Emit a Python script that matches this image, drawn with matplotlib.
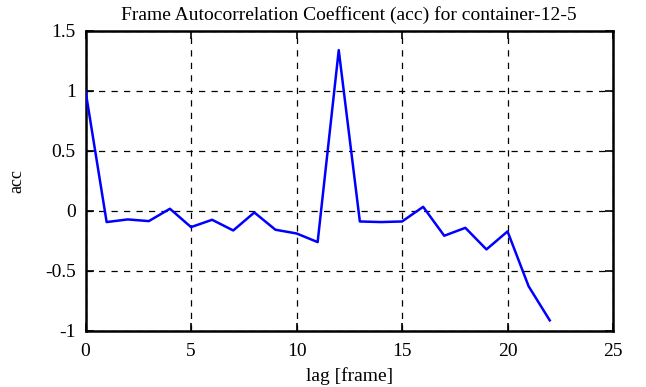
import matplotlib.pyplot as plt
import matplotlib
from matplotlib.ticker import FuncFormatter
matplotlib.use('Agg')

plt.rcParams['font.family'] = ['Liberation Serif', 'DejaVu Serif']

# acc values
lag = [0, 1, 2, 3, 4, 5, 6, 7, 8, 9, 10, 11, 12, 13, 14, 15, 16, 17, 18, 19, 20, 21, 22]
acc = [1.0, -0.094, -0.072, -0.086, 0.017, -0.136, -0.075, -0.164, -0.014, -0.158,
       -0.189, -0.261, 1.34, -0.089, -0.094, -0.089, 0.033, -0.208, -0.142, -0.322,
       -0.172, -0.63, -0.914]

xticks = [0, 5, 10, 15, 20, 25]
yticks = [-1, -0.5, 0, 0.5, 1, 1.5]

fig = plt.figure(figsize=(6.46, 3.87), dpi=100)
ax = fig.add_axes([0.1324, 0.1455, 0.8166, 0.7745])

ax.plot(lag, acc, color='#0000ff', linewidth=1.8, zorder=3)

ax.set_xlim(0, 25)
ax.set_ylim(-1, 1.5)
ax.set_xticks(xticks)
ax.set_yticks(yticks)
ax.yaxis.set_major_formatter(FuncFormatter(lambda v, p: f'{v:g}'))
ax.grid(True, color='black', linestyle=(0, (5, 5)), linewidth=0.9)
ax.tick_params(direction='in', length=6, width=1.2, labelsize=14,
               top=True, right=True, colors='black')
ax.tick_params(axis='x', pad=9)
ax.tick_params(axis='y', pad=7)
for s in ax.spines.values():
    s.set_linewidth(1.8)

ax.set_title('Frame Autocorrelation Coefficent (acc) for container-12-5', fontsize=14, pad=8)
ax.set_xlabel('lag [frame]', fontsize=14, labelpad=5)
ax.set_ylabel('acc', fontsize=13, labelpad=14)

fig.savefig('out.png', dpi=100)
